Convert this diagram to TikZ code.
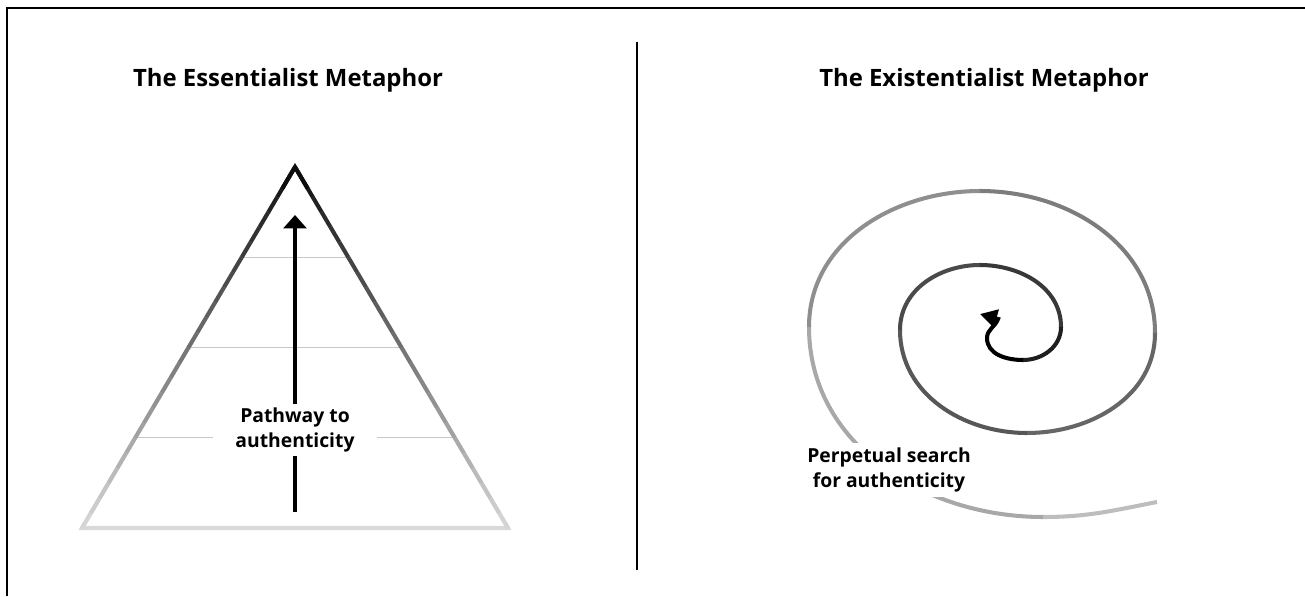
\documentclass[tikz,border=0pt]{standalone}
\usepackage{fontspec}
\setmainfont{Open Sans}
\usetikzlibrary{arrows.meta, positioning, calc}
\tikzset{
  heading/.style={font=\fontsize{13.6}{16}\selectfont\bfseries, anchor=base},
  tag/.style={font=\fontsize{11}{14.7}\selectfont\bfseries, align=center, fill=white, inner sep=0pt},
  tier/.style={draw=black!22, line width=0.7pt},
  rim/.style={line width=2.3pt},
  arr/.style={-{Triangle[length=0.27cm, width=0.46cm]}, line width=2.3pt},
  coil/.style={line width=2.3pt},
}

\begin{document}
\begin{tikzpicture}[x=0.02cm, y=0.02cm]
    \useasboundingbox (0,0) rectangle (1305,596);
    \draw[line width=1.2pt] (7,0) -- (7,588) -- (1305,588);
    \draw[line width=0.9pt] (637,26) -- (637,554);
    \node[heading] (ess) at (288,509) {The Essentialist Metaphor};
    \node[heading] (exi) at (984,509) {The Existentialist Metaphor};
    \coordinate (top) at (295,429);
    \coordinate (bl) at (82,68);
    \coordinate (br) at (508,68);
    \foreach \f in {0.25,0.5,0.75}
      \draw[tier] ($(bl)!\f!(top)$) -- ($(br)!\f!(top)$);
    \draw[rim, black!15, line join=miter] (bl) -- (top) -- (br) -- cycle;
    \foreach \i in {0,...,23} {
      \pgfmathsetmacro\p{15+80*(\i+0.5)/24}
      \draw[rim, black!\p] ($(bl)!{\i/24}!(top)$) -- ($(bl)!{(\i+1)/24}!(top)$);
      \draw[rim, black!\p] ($(br)!{\i/24}!(top)$) -- ($(br)!{(\i+1)/24}!(top)$);
    }
    \draw[rim, black!95, line join=miter] ($(top)!0.06!(bl)$) -- (top) -- ($(top)!0.06!(br)$);
    \coordinate (foot) at (295,84);
    \coordinate (peak) at (295,381);
    \draw[arr] (foot) -- (peak);
    \node[tag, minimum width=3.3cm, minimum height=1.06cm] (way) at (295,166) {Pathway to\\authenticity};
    \coordinate (s0) at (1157,94);
    \coordinate (s1) at (1043,79);
    \coordinate (s2) at (809,269);
    \coordinate (s3) at (980,405);
    \coordinate (s4) at (1155,263);
    \coordinate (s5) at (1027,163);
    \coordinate (s6) at (900,266);
    \coordinate (s7) at (980,331);
    \coordinate (s8) at (1061,269);
    \coordinate (s9) at (1023,236);
    \coordinate (s10) at (987,258);
    \coordinate (base) at (998,277);
    \coordinate (tip) at (980,282);
    \foreach \a/\b/\o/\n/\c in {s0/s1/191/0/26, s1/s2/180/-90/34, s2/s3/90/180/44,
        s3/s4/0/90/51, s4/s5/-90/0/60, s5/s6/180/-90/66, s6/s7/90/180/71,
        s7/s8/0/90/78, s8/s9/-90/0/88}
      \draw[coil, black!\c] (\a) to[out=\o, in=\n] (\b);
    \draw[coil, black, -{Triangle[length=0.34cm, width=0.36cm]}] (s9) to[out=180, in=-90] (s10)
      to[out=90, in=-110] (base) -- (tip);
    \node[tag, minimum width=3.4cm, minimum height=1.08cm] (quest) at (889,126) {Perpetual search\\for authenticity};
\end{tikzpicture}
\end{document}
